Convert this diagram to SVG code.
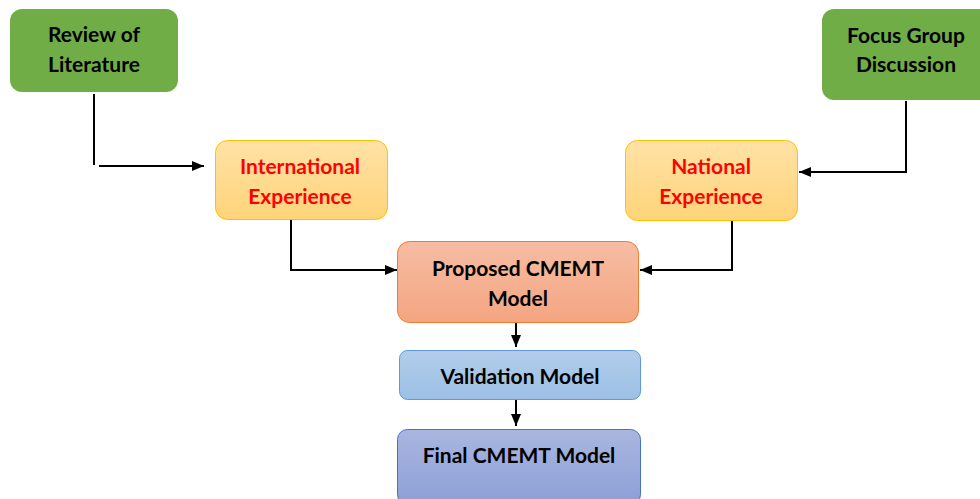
<svg xmlns="http://www.w3.org/2000/svg" width="980" height="499" viewBox="0 0 980 499">
<defs>
<linearGradient id="gy" x1="0" y1="0" x2="0" y2="1"><stop offset="0" stop-color="#FFE2A6"/><stop offset="1" stop-color="#FFD479"/></linearGradient>
<linearGradient id="go" x1="0" y1="0" x2="0" y2="1"><stop offset="0" stop-color="#F6BDA3"/><stop offset="1" stop-color="#F4A581"/></linearGradient>
<linearGradient id="gb" x1="0" y1="0" x2="0" y2="1"><stop offset="0" stop-color="#B2CDEA"/><stop offset="1" stop-color="#9CC0E5"/></linearGradient>
<linearGradient id="gp" x1="0" y1="0" x2="0" y2="1"><stop offset="0" stop-color="#A9B6E0"/><stop offset="1" stop-color="#8C9FD6"/></linearGradient>
<marker id="ah" viewBox="0 0 12 10" refX="12" refY="5" markerWidth="12" markerHeight="10" markerUnits="userSpaceOnUse" orient="auto"><path d="M0,0 L12,5 L0,10 z" fill="#000"/></marker>
</defs>
<style>
text{font-family:Lato,"Open Sans","Liberation Sans",sans-serif;font-weight:bold;font-size:21px;text-anchor:middle}
.blk{fill:#000}.red{fill:#FF0000}
.c{fill:none;stroke:#000;stroke-width:2}
</style>
<g id="connectors">
<polyline class="c" points="94,94 94,165"/>
<polyline class="c" points="99,166 204,166" marker-end="url(#ah)"/>
<polyline class="c" points="291,216 291,270 397,270" marker-end="url(#ah)"/>
<polyline class="c" points="906,101 906,172 799,172" marker-end="url(#ah)"/>
<polyline class="c" points="732,214 732,270 640,270" marker-end="url(#ah)"/>
<polyline class="c" points="516,320 516,347" marker-end="url(#ah)"/>
<polyline class="c" points="516,398 516,426" marker-end="url(#ah)"/>
</g>
<g id="review">
<rect x="10" y="9" width="168" height="83" rx="12" fill="#70AD47"/>
<text class="blk" x="94" y="42">Review of</text>
<text class="blk" x="94" y="72">Literature</text>
</g>
<g id="focus">
<rect x="822" y="9" width="170" height="91" rx="12" fill="#70AD47"/>
<text class="blk" x="906" y="43">Focus Group</text>
<text class="blk" x="906" y="72">Discussion</text>
</g>
<g id="international">
<rect x="215.5" y="140.5" width="172" height="79" rx="12" fill="url(#gy)" stroke="#FFC000" stroke-width="1"/>
<text class="red" x="300" y="174">International</text>
<text class="red" x="300" y="204">Experience</text>
</g>
<g id="national">
<rect x="625.5" y="140.5" width="172" height="80" rx="12" fill="url(#gy)" stroke="#FFC000" stroke-width="1"/>
<text class="red" x="711" y="174">National</text>
<text class="red" x="711" y="204">Experience</text>
</g>
<g id="proposed">
<rect x="397.5" y="241.5" width="241" height="81" rx="12" fill="url(#go)" stroke="#ED7D31" stroke-width="1"/>
<text class="blk" x="518" y="276">Proposed CMEMT</text>
<text class="blk" x="518" y="306">Model</text>
</g>
<g id="validation">
<rect x="399.5" y="350.5" width="241" height="49" rx="8" fill="url(#gb)" stroke="#5B9BD5" stroke-width="1"/>
<text class="blk" x="520" y="384">Validation Model</text>
</g>
<g id="final">
<rect x="397.5" y="429.5" width="243" height="75" rx="10" fill="url(#gp)" stroke="#4472C4" stroke-width="1"/>
<text class="blk" x="519" y="463">Final CMEMT Model</text>
</g>
</svg>
